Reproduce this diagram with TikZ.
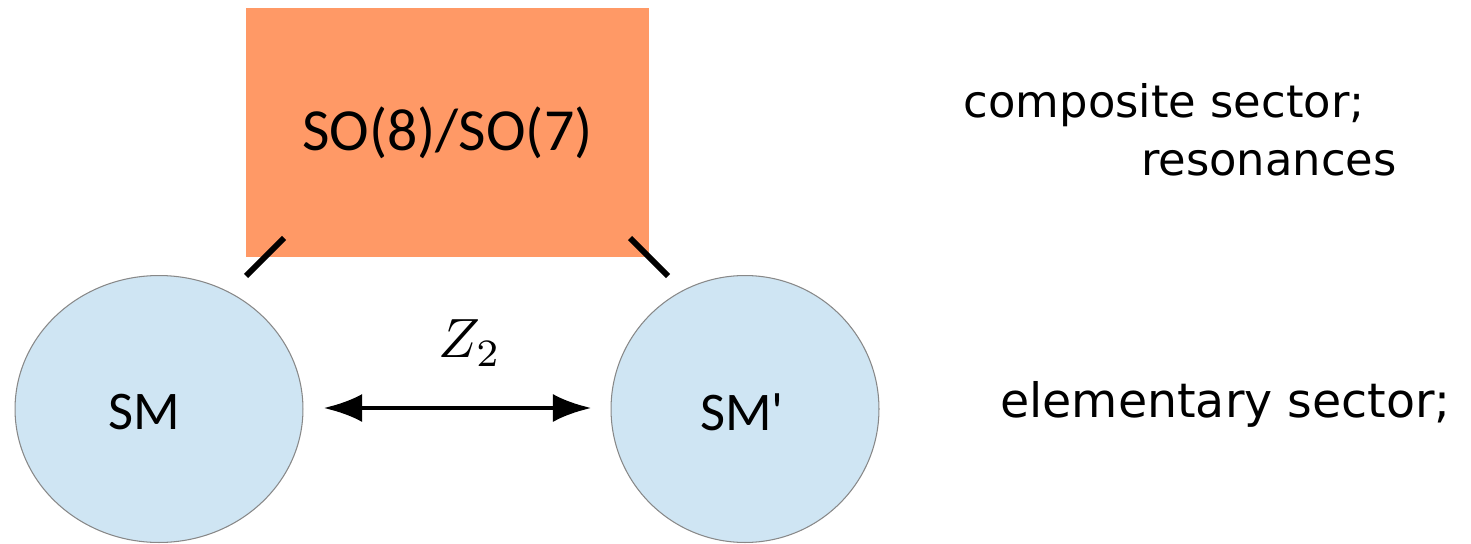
\documentclass[tikz,border=0pt]{standalone}
\usepackage{fontspec}
\usepackage{tikz}
\usetikzlibrary{shapes}
\usetikzlibrary{arrows.meta}
\usetikzlibrary{positioning}
\newfontfamily\boxfont{Carlito}
\newfontfamily\notefont{DejaVu Sans}
\definecolor{cosetorange}{HTML}{FF9966}
\definecolor{smblue}{HTML}{CFE5F3}
\definecolor{rimgray}{HTML}{888888}

\begin{document}
\begin{tikzpicture}[x=0.02cm,y=-0.02cm]
				\tikzset{coset/.style = {shape=rectangle,fill=cosetorange,minimum width=8.06cm,
						minimum height=4.98cm, inner sep = 0pt,
						font=\boxfont\fontsize{34}{40}\selectfont}}
				\tikzset{sector/.style = {shape=ellipse,draw=rimgray,fill=smblue,
						line width=0.6pt, inner sep = 0pt}}
				\tikzset{sectorname/.style = {font=\boxfont\fontsize{31}{36}\selectfont}}
				\tikzset{note/.style = {font=\notefont\fontsize{25.5}{31}\selectfont,
						inner sep = 0pt}}
				\tikzset{link/.style = {line width=3.4pt}}
				\tikzset{edgebi/.style = {{Latex[length=22pt,width=16pt]}-{Latex[length=22pt,width=16pt]},
						line width=2.8pt, shorten < = 0.4cm, shorten > = 0.38cm}}
				\useasboundingbox (0,0) rectangle (1471,544);
				
				% vertices
				\node[coset] (coset) at (447.5,132.5) {SO(8)/SO(7)};
				\node[sector, minimum width=5.76cm, minimum height=5.34cm] (sm) at (159,409) {};
				\node[sector, minimum width=5.36cm, minimum height=5.34cm] (smp) at (745,409) {};
				\node[sectorname] (smtext) at (144,412) {SM};
				\node[sectorname] (smptext) at (742,412) {SM'};
				\node (ztwo) at (470,343) {\scalebox{3.15}{$Z_2$}};
				
				\node[note, anchor=base east] (comp) at (1365,118) {composite sector;};
				\node[note, anchor=base east] (reso) at (1397,175) {resonances};
				\node[note, anchor=base west, font=\notefont\fontsize{27}{32}\selectfont]
					(elem) at (1000,417) {elementary sector;};
				
				% short links below the corners
				\coordinate (la) at (246,276);
				\coordinate (lb) at (284,238);
				\coordinate (ra) at (630,238);
				\coordinate (rb) at (668,276);
				
				%edges
				\draw[link] (la) -- (lb);
				\draw[link] (ra) -- (rb);
				\draw[edgebi] (sm.east |- 0,408) -- (smp.west |- 0,408);
				
\end{tikzpicture}
\end{document}
